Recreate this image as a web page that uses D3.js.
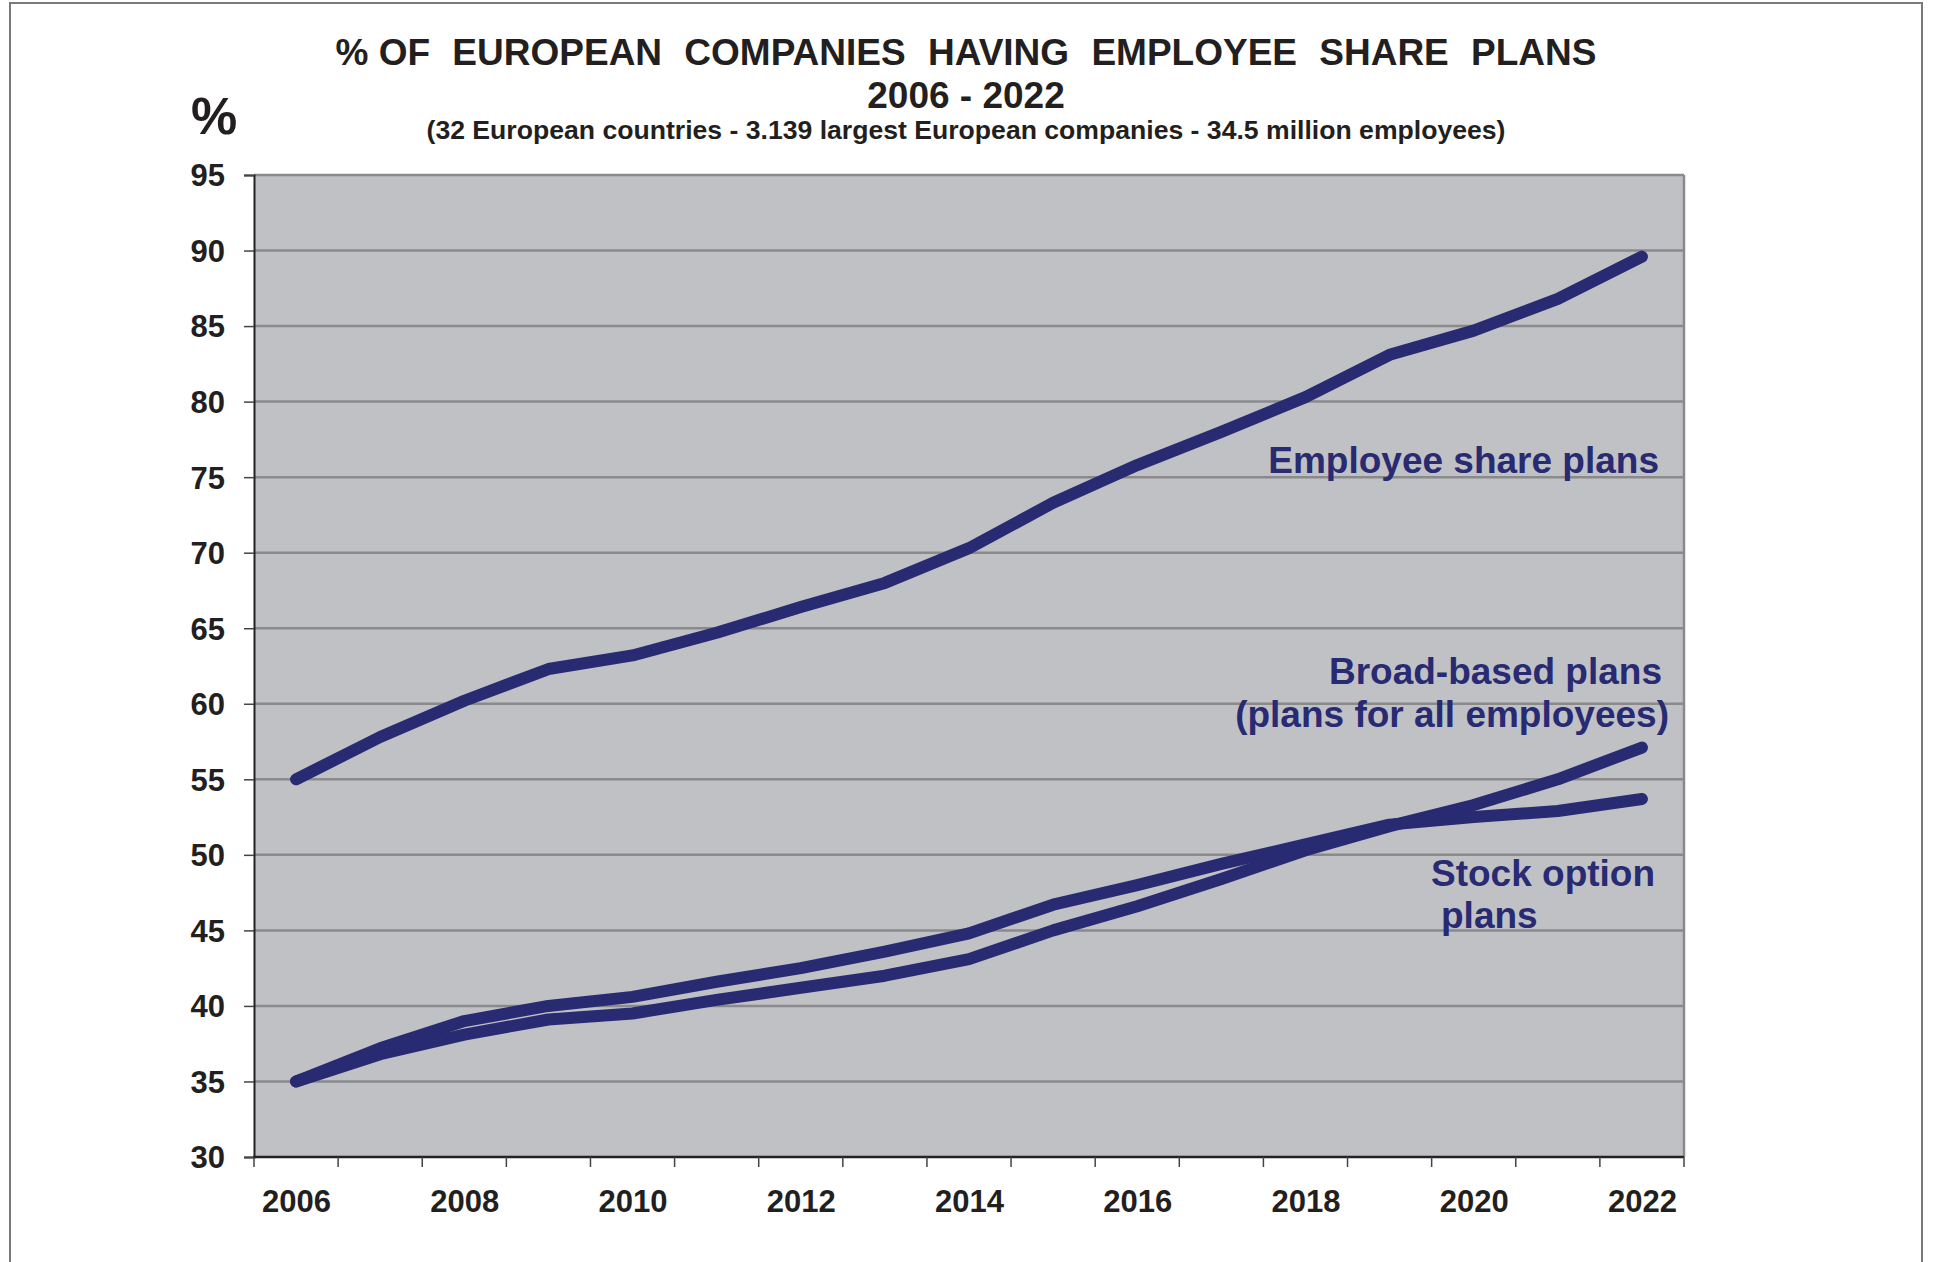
<!DOCTYPE html>
<html>
<head>
<meta charset="utf-8">
<script src="https://cdn.jsdelivr.net/npm/d3@7"></script>
<style>
  body { margin: 0; background: #fff; }
  svg { display: block; }
  text { font-family: "Liberation Sans", Arial, sans-serif; font-weight: bold; }
</style>
</head>
<body>
<div id="chart"></div>
<script>
// data
var years = d3.range(2006, 2023);
var yearLabels = [2006, 2008, 2010, 2012, 2014, 2016, 2018, 2020, 2022];
var yTicks = [30, 35, 40, 45, 50, 55, 60, 65, 70, 75, 80, 85, 90, 95];

var employeeShare = [55.0, 57.8, 60.2, 62.3, 63.2, 64.7, 66.4, 68.0, 70.3, 73.3, 75.8, 78.0, 80.3, 83.1, 84.7, 86.8, 89.6];
var stockOption   = [35.0, 37.2, 39.0, 40.0, 40.6, 41.6, 42.5, 43.6, 44.8, 46.7, 48.0, 49.4, 50.7, 52.0, 52.5, 52.9, 53.7];
var broadBased    = [35.0, 36.8, 38.1, 39.1, 39.5, 40.4, 41.2, 42.0, 43.1, 45.0, 46.6, 48.4, 50.3, 51.9, 53.3, 55.0, 57.1];

var attrs = {
  width: 1934,
  height: 1262,
  plotLeft: 254,
  plotRight: 1684,
  plotTop: 175,
  plotBottom: 1157,
  plotBg: '#c0c1c5',
  gridColor: '#8a8a8c',
  lineColor: '#282a72',
  textColor: '#231f20',
  lineWidth: 12
};

var svg = d3.select('#chart').append('svg')
  .attr('width', attrs.width)
  .attr('height', attrs.height);

// outer frame
svg.append('rect')
  .attr('x', 10).attr('y', 3)
  .attr('width', 1912).attr('height', 1300)
  .attr('fill', 'none')
  .attr('stroke', '#7a7a7a')
  .attr('stroke-width', 2);

var x = d3.scalePoint()
  .domain(years)
  .range([attrs.plotLeft, attrs.plotRight])
  .padding(0.5);

var xBand = d3.scaleBand()
  .domain(years)
  .range([attrs.plotLeft, attrs.plotRight]);

var y = d3.scaleLinear()
  .domain([30, 95])
  .range([attrs.plotBottom, attrs.plotTop]);

// plot background
svg.append('rect')
  .attr('x', attrs.plotLeft)
  .attr('y', attrs.plotTop)
  .attr('width', attrs.plotRight - attrs.plotLeft)
  .attr('height', attrs.plotBottom - attrs.plotTop)
  .attr('fill', attrs.plotBg);

// horizontal grid
svg.append('g').selectAll('line')
  .data(yTicks.filter(function(d) { return d > 30; }))
  .enter().append('line')
  .attr('x1', attrs.plotLeft).attr('x2', attrs.plotRight)
  .attr('y1', function(d) { return y(d); })
  .attr('y2', function(d) { return y(d); })
  .attr('stroke', attrs.gridColor)
  .attr('stroke-width', 2.5);

// right border
svg.append('line')
  .attr('x1', attrs.plotRight).attr('x2', attrs.plotRight)
  .attr('y1', attrs.plotTop).attr('y2', attrs.plotBottom)
  .attr('stroke', attrs.gridColor)
  .attr('stroke-width', 2.5);

// y axis
var yAxis = d3.axisLeft(y)
  .tickValues(yTicks)
  .tickSize(10)
  .tickPadding(19);

var yg = svg.append('g')
  .attr('transform', 'translate(' + attrs.plotLeft + ',0)')
  .call(yAxis);
yg.select('.domain').attr('stroke', '#222').attr('stroke-width', 2);
yg.selectAll('.tick line').attr('stroke', '#444').attr('stroke-width', 1.5);
yg.selectAll('.tick text')
  .attr('font-size', 31)
  .attr('font-family', '"Liberation Sans", Arial, sans-serif')
  .attr('font-weight', 'bold')
  .attr('fill', attrs.textColor)
  .attr('dy', '0.35em');

// x axis: ticks at category boundaries, labels on every second year
var bounds = years.map(function(d) { return xBand(d); }).concat([attrs.plotRight]);
svg.append('line')
  .attr('x1', attrs.plotLeft - 1).attr('x2', attrs.plotRight)
  .attr('y1', attrs.plotBottom).attr('y2', attrs.plotBottom)
  .attr('stroke', '#222').attr('stroke-width', 2.5);
svg.append('g').selectAll('line')
  .data(bounds)
  .enter().append('line')
  .attr('x1', function(d) { return d; })
  .attr('x2', function(d) { return d; })
  .attr('y1', attrs.plotBottom)
  .attr('y2', attrs.plotBottom + 10)
  .attr('stroke', '#444')
  .attr('stroke-width', 1.5);

var xAxis = d3.axisBottom(x)
  .tickValues(yearLabels)
  .tickSize(0)
  .tickPadding(0);
var xg = svg.append('g')
  .attr('transform', 'translate(0,' + attrs.plotBottom + ')')
  .call(xAxis);
xg.select('.domain').remove();
xg.selectAll('.tick text')
  .attr('y', 55)
  .attr('dy', 0)
  .attr('font-size', 31)
  .attr('font-family', '"Liberation Sans", Arial, sans-serif')
  .attr('font-weight', 'bold')
  .attr('fill', attrs.textColor);

// series lines
var line = d3.line()
  .x(function(d, i) { return x(years[i]); })
  .y(function(d) { return y(d); });

[broadBased, stockOption, employeeShare].forEach(function(series) {
  svg.append('path')
    .datum(series)
    .attr('d', line)
    .attr('fill', 'none')
    .attr('stroke', attrs.lineColor)
    .attr('stroke-width', attrs.lineWidth)
    .attr('stroke-linecap', 'round')
    .attr('stroke-linejoin', 'round');
});

// series labels
function addLabel(lines, xPos, yPos, anchor, lineGap) {
  var t = svg.append('text')
    .attr('font-size', 37)
    .attr('fill', attrs.lineColor)
    .attr('text-anchor', anchor);
  lines.forEach(function(s, i) {
    t.append('tspan')
      .attr('x', xPos[i])
      .attr('y', yPos + i * lineGap)
      .text(s);
  });
}
addLabel(['Employee share plans'], [1659], 473, 'end', 0);
addLabel(['Broad-based plans', '(plans for all employees)'], [1662, 1669], 684, 'end', 43);
addLabel(['Stock option', 'plans'], [1431, 1441], 886, 'start', 42);

// titles
var title = svg.append('text')
  .attr('x', 966).attr('y', 65)
  .attr('text-anchor', 'middle')
  .attr('font-size', 37)
  .attr('fill', attrs.textColor);
title.append('tspan').text('% OF');
title.append('tspan')
  .attr('word-spacing', 12)
  .text(' EUROPEAN COMPANIES HAVING EMPLOYEE SHARE PLANS');

svg.append('text')
  .attr('x', 966).attr('y', 108)
  .attr('text-anchor', 'middle')
  .attr('font-size', 37)
  .attr('fill', attrs.textColor)
  .text('2006 - 2022');

svg.append('text')
  .attr('x', 966).attr('y', 139)
  .attr('text-anchor', 'middle')
  .attr('font-size', 26.6)
  .attr('fill', attrs.textColor)
  .text('(32 European countries - 3.139 largest European companies - 34.5 million employees)');

svg.append('text')
  .attr('x', 214).attr('y', 134)
  .attr('text-anchor', 'middle')
  .attr('font-size', 52)
  .attr('fill', attrs.textColor)
  .text('%');
</script>
</body>
</html>
